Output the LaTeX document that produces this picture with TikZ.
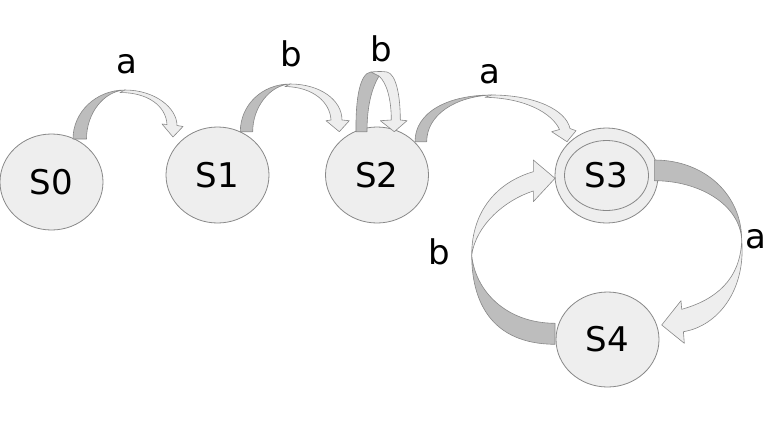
\documentclass[tikz,border=0pt]{standalone}
\usepackage{fontspec}
\setmainfont{DejaVu Sans}
\usetikzlibrary{shapes.geometric}
\definecolor{nodefill}{HTML}{EEEEEE}
\definecolor{backfill}{HTML}{BDBDBD}
\definecolor{frontfill}{HTML}{EEEEEE}
\definecolor{linec}{HTML}{888888}
\tikzset{
  state/.style={ellipse, draw=linec, fill=nodefill, line width=0.8pt,
    minimum width=103pt, minimum height=96pt, inner sep=0pt,
    font=\fontsize{34}{40}\selectfont},
  backpart/.style={fill=backfill, draw=linec, line width=0.6pt, line join=round},
  frontpart/.style={fill=frontfill, draw=linec, line width=0.6pt, line join=round},
  lbl/.style={anchor=base, inner sep=0pt, font=\fontsize{34}{40}\selectfont}
}
\begin{document}
\begin{tikzpicture}[x=1pt, y=-1pt]
\useasboundingbox (0,0) rectangle (765,429);
% states
\node[state] (S0) at (51.5,182) {S0};
\node[state] (S1) at (217.5,175) {S1};
\node[state] (S2) at (377,175) {S2};
\node[state, minimum height=95pt] (S3) at (606.5,175.5) {S3};
\draw[linec, line width=0.8pt] (S3.center) ellipse (42 and 35);
\node[state, minimum height=95pt] (S4) at (607.5,339.5) {S4};
% S0 -> S1
\path[backpart] (73,139) .. controls (73,112) and (96,90) .. (125,90)
  .. controls (104,91) and (86.5,113) .. (86.5,139) -- cycle;
\path[frontpart] (125,90) .. controls (155,90) and (177,108) .. (177,125.5)
  -- (183,126.5) -- (173,137) -- (162,124) -- (167,124.5)
  .. controls (166,106) and (148,92.5) .. (120,92.5) -- cycle;
% S1 -> S2
\path[backpart] (240.3,131.7) .. controls (240.3,105) and (262,84) .. (290.3,84)
  .. controls (270,85) and (252.7,107) .. (252.7,131.7) -- cycle;
\path[frontpart] (290.3,84) .. controls (320,84) and (342,100) .. (342,120)
  -- (349.3,120.7) -- (339.3,131.7) -- (326,120.7) -- (331,120)
  .. controls (330,102) and (313,87) .. (285,86.5) -- cycle;
% S2 -> S2
\path[backpart] (356,131.7) .. controls (355.5,98) and (360,73) .. (371,72)
  -- (379,76) .. controls (372,88) and (367,105) .. (367,131.7) -- cycle;
\path[frontpart] (371,72) .. controls (378,71.3) and (382,71.3) .. (387,72)
  .. controls (396,74) and (400.3,95) .. (400.3,120)
  -- (407,120.7) -- (394.3,131.7) -- (380.3,120.7) -- (391.3,120)
  .. controls (391.3,100) and (387,83) .. (379,76) -- cycle;
% S2 -> S3
\path[backpart] (415,141.7) .. controls (415,112) and (448,95) .. (491.7,95)
  .. controls (455,96.5) and (426.7,115) .. (426.7,141.7) -- cycle;
\path[frontpart] (491.7,95) .. controls (535,95) and (566,110) .. (570,128.5)
  -- (576,130.7) -- (567,141.7) -- (551.7,131.7) -- (559.5,129.5)
  .. controls (552,113) and (525,98) .. (485,97.3) -- cycle;
% S3 -> S4
\path[backpart] (654.3,160) .. controls (705,160) and (741.7,195) .. (741.7,240)
  .. controls (740,205) and (700,180.7) .. (654.3,180.7) -- cycle;
\path[frontpart] (741.7,240) .. controls (746,290) and (718,326) .. (683.4,331.7)
  -- (684.3,343.3) -- (661.7,325) -- (681,300.7) -- (681.7,309.3)
  .. controls (715,300) and (740.5,280) .. (741.7,240) -- cycle;
% S4 -> S3
\path[backpart] (555,344.3) .. controls (490,344) and (471.7,300) .. (471.7,255)
  .. controls (475,290) and (505,323) .. (555,323.3) -- cycle;
\path[frontpart] (471.7,255) .. controls (471.7,210) and (498,182) .. (533.3,171.7)
  -- (533.3,160) -- (555,178.3) -- (533.3,201.7) -- (533.3,191)
  .. controls (505,200) and (476,225) .. (471.7,255) -- cycle;
% labels
\node[lbl] (la1) at (126.7,73.3) {a};
\node[lbl] (lb1) at (291.3,66) {b};
\node[lbl] (lb2) at (381,61.7) {b};
\node[lbl] (la2) at (489.5,83) {a};
\node[lbl] (la3) at (756,248.3) {a};
\node[lbl] (lb3) at (439.5,264) {b};
\end{tikzpicture}
\end{document}
